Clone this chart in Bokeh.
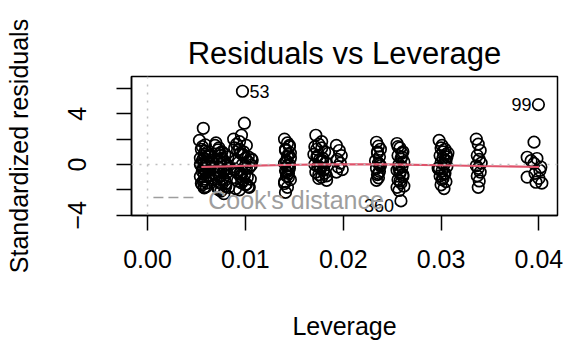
from bokeh.plotting import figure
from bokeh.embed import file_html
from bokeh.resources import INLINE
from bokeh.models import FixedTicker, Span, Range1d, NumeralTickFormatter
from bokeh.core.properties import value

FONT = "Liberation Sans"

# ---- data: (leverage, standardized residual) per cluster ----
lev_a = [0.0057, 0.0059, 0.0055, 0.0061, 0.0058, 0.0063, 0.0054, 0.0060, 0.0056, 0.0062,
         0.0058, 0.0064, 0.0055, 0.0059, 0.0061, 0.0057, 0.0063, 0.0056, 0.0060, 0.0058,
         0.0062, 0.0054, 0.0065, 0.0059, 0.0057, 0.0061, 0.0056, 0.0060, 0.0058, 0.0063,
         0.0053, 0.0056, 0.0059, 0.0062, 0.0065, 0.0054, 0.0057, 0.0060, 0.0063, 0.0066,
         0.0055, 0.0058, 0.0061, 0.0064, 0.0057]
res_a = [2.85, 1.55, 1.2, 0.95, 0.8, 0.65, 0.5, 0.4, 0.3, 0.2,
         0.1, 0.05, -0.05, -0.15, -0.25, -0.35, -0.45, -0.55, -0.65, -0.75,
         -0.85, -0.95, -1.05, -1.15, -1.3, -1.45, -1.6, -1.75, -1.85, 0.6,
         1.9, 1.4, 1.05, 0.7, 0.35, 0.0, -0.3, -0.6, -0.9, -1.2,
         -1.5, -1.8, 0.15, -0.1, 0.45]
lev_b = [0.0070, 0.0073, 0.0076, 0.0079, 0.0082, 0.0071, 0.0074, 0.0077, 0.0080, 0.0072,
         0.0075, 0.0078, 0.0081, 0.0070, 0.0074, 0.0077, 0.0079, 0.0073, 0.0076, 0.0080,
         0.0072, 0.0075, 0.0078, 0.0074,
         0.0069, 0.0072, 0.0075, 0.0078, 0.0081, 0.0084, 0.0071, 0.0074, 0.0077, 0.0080,
         0.0083, 0.0073, 0.0076, 0.0079]
res_b = [1.7, 1.3, 1.0, 0.8, 0.6, 0.4, 0.25, 0.1, -0.05, -0.2,
         -0.35, -0.5, -0.65, -0.8, -0.95, -1.1, -1.25, -1.4, -1.55, -1.7,
         -1.9, -2.1, -2.3, 0.9,
         1.5, 1.15, 0.7, 0.3, 0.0, -0.3, -0.6, -0.9, -1.2, -1.5,
         -1.8, -2.0, 0.5, -0.45]
lev_c = [0.0097, 0.0099, 0.0096, 0.0094, 0.0101, 0.0089, 0.0092, 0.0095, 0.0098, 0.0103,
         0.0106, 0.0090, 0.0093, 0.0097, 0.0100, 0.0104, 0.0088, 0.0091, 0.0095, 0.0099,
         0.0102, 0.0105, 0.0092, 0.0096, 0.0100, 0.0103, 0.0090, 0.0094, 0.0098, 0.0101,
         0.0088, 0.0091, 0.0094, 0.0097, 0.0100, 0.0103, 0.0106, 0.0089, 0.0092, 0.0095,
         0.0098, 0.0101, 0.0104, 0.0107, 0.0096]
res_c = [5.77, 3.25, 2.3, 1.8, 1.5, 1.3, 1.1, 0.9, 0.75, 0.6,
         0.45, 0.3, 0.15, 0.0, -0.1, -0.25, -0.4, -0.55, -0.7, -0.85,
         -1.0, -1.15, -1.3, -1.45, -1.6, -1.75, -1.9, -2.0, 1.0, -0.3,
         2.0, 1.6, 1.2, 0.8, 0.5, 0.2, -0.05, -0.35, -0.65, -0.95,
         -1.25, -1.55, -1.8, 0.35, -0.8]
lev_d = [0.0140, 0.0143, 0.0145, 0.0141, 0.0144, 0.0146, 0.0142, 0.0140, 0.0143, 0.0145,
         0.0141, 0.0144, 0.0142, 0.0146, 0.0140, 0.0143, 0.0141, 0.0145, 0.0142, 0.0144,
         0.0141, 0.0143, 0.0145, 0.0142, 0.0144, 0.0140, 0.0146]
res_d = [2.0, 1.7, 1.4, 1.1, 0.8, 0.5, 0.3, 0.1, -0.1, -0.3,
         -0.5, -0.7, -0.9, -1.2, -1.5, -1.8, -2.2, 1.5, 0.2, -0.4,
         1.2, 0.6, 0.0, -0.6, -1.0, -1.35, 0.9]
lev_e = [0.0172, 0.0175, 0.0178, 0.0181, 0.0170, 0.0173, 0.0176, 0.0179, 0.0182, 0.0171,
         0.0174, 0.0177, 0.0180, 0.0172, 0.0175, 0.0178, 0.0183, 0.0185, 0.0176, 0.0179,
         0.0173, 0.0181,
         0.0171, 0.0174, 0.0177, 0.0180, 0.0183, 0.0175, 0.0178]
res_e = [2.3, 1.6, 1.3, 1.0, 0.8, 0.6, 0.4, 0.3, 0.15, 0.0,
         -0.15, -0.3, -0.45, -0.6, -0.8, -1.0, -1.25, 0.9, -0.2, 0.5,
         1.2, -0.7,
         1.4, 0.7, 0.2, -0.4, -0.9, -1.1, 1.8]
lev_f = [0.0193, 0.0196, 0.0198, 0.0194, 0.0197, 0.0195, 0.0199, 0.0193]
res_f = [1.5, 1.1, 0.7, 0.4, 0.1, -0.2, -0.4, -0.6]
lev_g = [0.0234, 0.0236, 0.0238, 0.0235, 0.0237, 0.0233, 0.0236, 0.0238, 0.0234, 0.0237,
         0.0235, 0.0236, 0.0234, 0.0235, 0.0237, 0.0236]
res_g = [1.75, 1.45, 1.2, 0.9, 0.6, 0.3, 0.1, -0.1, -0.3, -0.55,
         -0.8, -1.05, -1.25, 1.0, 0.0, -0.7]
lev_h = [0.0255, 0.0258, 0.0261, 0.0256, 0.0259, 0.0262, 0.0257, 0.0260, 0.0255, 0.0258,
         0.0261, 0.0256, 0.0259, 0.0262, 0.0257, 0.0260, 0.0258, 0.0259,
         0.0256, 0.0260, 0.0257, 0.0261, 0.0258, 0.0255]
res_h = [1.65, 1.3, 1.0, 0.7, 0.45, 0.2, 0.0, -0.2, -0.45, -0.7,
         -0.95, -1.2, -1.45, -1.7, -2.05, 0.9, -0.6, -2.87,
         1.4, 0.6, -0.3, -0.8, -1.3, -1.8]
lev_i = [0.0298, 0.0301, 0.0304, 0.0307, 0.0299, 0.0302, 0.0305, 0.0300, 0.0303, 0.0306,
         0.0297, 0.0301, 0.0304, 0.0299, 0.0302, 0.0305, 0.0300, 0.0303, 0.0306, 0.0298,
         0.0302, 0.0300, 0.0304, 0.0298, 0.0303, 0.0301, 0.0305]
res_i = [1.9, 1.5, 1.2, 0.9, 0.7, 0.5, 0.3, 0.15, 0.0, -0.15,
         -0.3, -0.5, -0.7, -0.9, -1.1, -1.35, -1.6, -1.9, 0.6, -0.4,
         1.0, 1.3, 0.35, -0.25, -0.8, -1.2, 0.8]
lev_j = [0.0336, 0.0338, 0.0340, 0.0337, 0.0339, 0.0341, 0.0336, 0.0338, 0.0340, 0.0337,
         0.0339, 0.0338]
res_j = [2.0, 1.6, 1.1, 0.7, 0.4, 0.1, -0.1, -0.3, -0.6, -0.9, -1.3, -1.8]
lev_k = [0.0395, 0.0388, 0.0398, 0.0395, 0.0401, 0.0388, 0.0400, 0.0403, 0.0397, 0.0392,
         0.0402, 0.0396, 0.03995]
res_k = [1.76, 0.57, 0.47, 0.08, -0.47, -1.0, -1.1, -1.47, -1.4, 0.3,
         -0.2, -0.7, 4.72]

leverage = lev_a + lev_b + lev_c + lev_d + lev_e + lev_f + lev_g + lev_h + lev_i + lev_j + lev_k
std_resid = res_a + res_b + res_c + res_d + res_e + res_f + res_g + res_h + res_i + res_j + res_k

# labelled observations
id_right_lev = [0.0097]
id_right_res = [5.77]
id_right_txt = ["53"]
id_left_lev = [0.03995]
id_left_res = [4.72]
id_left_txt = ["99"]
id_low_lev = [0.0259]
id_low_res = [-2.87]
id_low_txt = ["360"]

# smoother
smooth_lev = [0.0055, 0.0080, 0.0100, 0.0140, 0.0180, 0.0200, 0.0240, 0.0260, 0.0300, 0.0340, 0.0400]
smooth_res = [-0.20, -0.15, -0.10, -0.04, 0.00, 0.00, 0.00, -0.02, -0.06, -0.12, -0.20]

x_ticks = [0.00, 0.01, 0.02, 0.03, 0.04]
y_ticks = [-4, -2, 0, 2, 4, 6]
y_tick_labels = {-4: "\u22124", -2: "", 0: "0", 2: "", 4: "4", 6: ""}

p = figure(width=566, height=346, output_backend="svg", toolbar_location=None,
           x_range=Range1d(-0.00164, 0.0419), y_range=Range1d(-4.02, 6.93),
           min_border_left=131, min_border_right=9, min_border_top=76, min_border_bottom=131,
           background_fill_color="white", border_fill_color="white")

p.title.text = "Residuals vs Leverage"
p.title.align = "center"
p.title.text_font = FONT
p.title.text_font_size = "31px"
p.title.text_font_style = "normal"
p.title.text_color = "black"
p.title.standoff = 12

p.grid.visible = False
p.outline_line_color = "black"
p.outline_line_width = 1.5
p.outline_line_alpha = 1.0

for ax in (p.xaxis[0], p.yaxis[0]):
    ax.axis_line_width = 1.5
    ax.major_tick_line_width = 1.5
    ax.major_tick_out = 15
    ax.major_tick_in = 0
    ax.minor_tick_line_color = None
    ax.major_label_text_font = FONT
    ax.major_label_text_font_size = "25px"
    ax.major_label_text_color = "black"
    ax.axis_label_text_font = FONT
    ax.axis_label_text_font_size = "25px"
    ax.axis_label_text_font_style = "normal"
    ax.axis_label_text_color = "black"

p.xaxis.ticker = FixedTicker(ticks=x_ticks)
p.xaxis.formatter = NumeralTickFormatter(format="0.00")
p.xaxis.major_label_standoff = 19
p.xaxis.axis_label = "Leverage"
p.xaxis.axis_label_standoff = 41

p.yaxis.ticker = FixedTicker(ticks=y_ticks)
p.yaxis.major_label_overrides = y_tick_labels
p.yaxis.major_label_orientation = "parallel"
p.yaxis.major_label_standoff = 30
p.yaxis.axis_label = "Standardized residuals"
p.yaxis.axis_label_standoff = 33

grey_dot = "#BEBEBE"
p.add_layout(Span(location=0, dimension="width", line_color=grey_dot, line_dash="2 6", line_width=1.5))
p.add_layout(Span(location=0, dimension="height", line_color=grey_dot, line_dash="2 6", line_width=1.5))

p.scatter(leverage, std_resid, size=11.5, fill_color=None, line_color="black", line_width=1.7)
p.line(smooth_lev, smooth_res, line_color="#DF536B", line_width=2.2)

p.text(id_right_lev, id_right_res, text=id_right_txt, x_offset=7, text_align="left",
       text_baseline="middle", text_font=value(FONT), text_font_size="18px", text_color="black")
p.text(id_left_lev, id_left_res, text=id_left_txt, x_offset=-7, text_align="right",
       text_baseline="middle", text_font=value(FONT), text_font_size="18px", text_color="black")
p.text(id_low_lev, id_low_res, text=id_low_txt, x_offset=-7, y_offset=5, text_align="right",
       text_baseline="middle", text_font=value(FONT), text_font_size="18px", text_color="black")

# Cook's distance legend
legend_grey = "#9E9E9E"
p.line([0.0006, 0.0048], [-2.6, -2.6], line_color=legend_grey, line_dash="10 5", line_width=1.5)
p.text([0.0062], [-2.82], text=["Cook's distance"], text_align="left", text_baseline="middle",
       text_font=value(FONT), text_font_size="25px", text_color=legend_grey)

open("out.html", "w").write(file_html(p, INLINE))
